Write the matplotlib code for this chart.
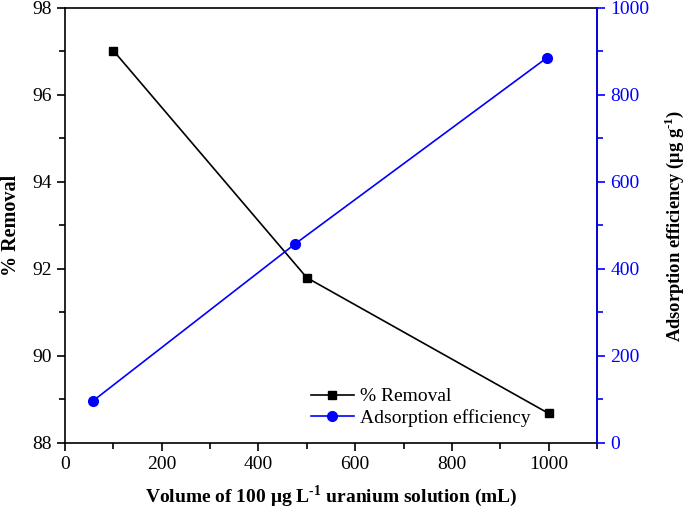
import matplotlib
matplotlib.use('Agg')
import matplotlib.pyplot as plt
from matplotlib.ticker import MultipleLocator

plt.rcParams['font.family'] = ['Liberation Serif', 'DejaVu Serif']
plt.rcParams['mathtext.fontset'] = 'custom'
plt.rcParams['mathtext.rm'] = 'Liberation Serif'
plt.rcParams['mathtext.bf'] = 'Liberation Serif:bold'

# data
volume_removal = [100, 500, 1000]
removal = [97.02, 91.8, 88.68]
volume_ads = [57, 475, 997]
adsorption = [96, 457, 886]

fig = plt.figure(figsize=(6.85, 5.16), dpi=100)
ax = fig.add_axes([0.0949, 0.1415, 0.7766, 0.843])
ax2 = ax.twinx()

l1, = ax.plot(volume_removal, removal, color='black', marker='s', markersize=6, linewidth=1.2, label='% Removal')
l2, = ax2.plot(volume_ads, adsorption, color='blue', marker='o', markersize=7, linewidth=1.2, label='Adsorption efficiency')

ax.set_xlim(0, 1100)
ax.set_ylim(88, 98)
ax2.set_ylim(0, 1000)

ax.xaxis.set_major_locator(MultipleLocator(200))
ax.xaxis.set_minor_locator(MultipleLocator(100))
ax.yaxis.set_major_locator(MultipleLocator(2))
ax.yaxis.set_minor_locator(MultipleLocator(1))
ax2.yaxis.set_major_locator(MultipleLocator(200))
ax2.yaxis.set_minor_locator(MultipleLocator(100))

ax.tick_params(axis='both', which='both', direction='out', labelsize=14, width=1.2)
ax.tick_params(which='major', length=6)
ax.tick_params(which='minor', length=4)
ax.tick_params(axis='x', top=False)
ax2.tick_params(axis='y', which='both', direction='out', colors='blue', labelsize=14, width=1.2)
ax2.tick_params(which='major', length=6)
ax2.tick_params(which='minor', length=4)

for s in ax.spines.values():
    s.set_linewidth(1.2)
ax2.spines['right'].set_color('blue')
ax2.spines['right'].set_linewidth(1.2)
ax2.spines['left'].set_visible(False)
ax2.spines['top'].set_visible(False)
ax2.spines['bottom'].set_visible(False)

ax.set_xlabel(r'Volume of 100 μg L$^{\mathbf{\text{-}1}}$ uranium solution (mL)', fontsize=14, fontweight='bold', labelpad=7)
ax.set_ylabel('% Removal', fontsize=14.5, fontweight='bold', labelpad=8)
ax2.set_ylabel(r'Adsorption efficiency (μg g$^{\mathbf{\text{-}1}}$)', fontsize=13.3, fontweight='bold', labelpad=10)

ax.legend(handles=[l1, l2], loc='lower right', bbox_to_anchor=(0.9, 0.005), frameon=False, fontsize=14,
          handlelength=2.2, borderaxespad=0.3, labelspacing=0.2, handletextpad=0.3)

fig.savefig('out.png', dpi=100)
